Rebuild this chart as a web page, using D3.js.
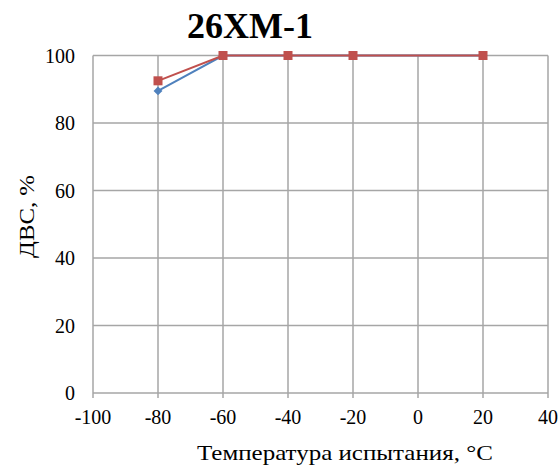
<!DOCTYPE html>
<html>
<head>
<meta charset="utf-8">
<script src="https://cdn.jsdelivr.net/npm/d3@7"></script>
<style>
  html, body { margin: 0; padding: 0; background: #fff; }
  svg { display: block; }
  text { font-family: "Liberation Serif", "Times New Roman", serif; fill: #000; }
</style>
</head>
<body>
<svg id="chart" width="560" height="467"></svg>
<script>
// Test temperatures, °C
const temperatures = [-80, -60, -40, -20, 20];
// Share of ductile fracture, % — two specimen series
const seriesBlue = [89.5, 100, 100, 100, 100];
const seriesRed = [92.5, 100, 100, 100, 100];
const xTicks = [-100, -80, -60, -40, -20, 0, 20, 40];
const yTicks = [0, 20, 40, 60, 80, 100];

const svg = d3.select("#chart");
const margin = { left: 93, right: 12, top: 55.5, bottom: 74 };
const W = 560, H = 467;

const x = d3.scaleLinear().domain([-100, 40]).range([margin.left, W - margin.right]);
const y = d3.scaleLinear().domain([0, 100]).range([H - margin.bottom, margin.top]);

const grid = "#a6a6a6";

// horizontal gridlines
svg.append("g").selectAll("line").data(yTicks).join("line")
  .attr("x1", x(-100)).attr("x2", x(40))
  .attr("y1", d => y(d)).attr("y2", d => y(d))
  .attr("stroke", grid).attr("stroke-width", 1.5);

// vertical gridlines with tick marks below the axis
svg.append("g").selectAll("line").data(xTicks).join("line")
  .attr("x1", d => x(d)).attr("x2", d => x(d))
  .attr("y1", y(100)).attr("y2", y(0) + 5)
  .attr("stroke", grid).attr("stroke-width", 1.5);

// x tick labels
svg.append("g").selectAll("text").data(xTicks).join("text")
  .attr("x", d => x(d)).attr("y", y(0) + 31)
  .attr("text-anchor", "middle")
  .attr("font-size", 20)
  .text(d => d);

// y tick labels
svg.append("g").selectAll("text").data(yTicks).join("text")
  .attr("x", 75).attr("y", d => y(d))
  .attr("dy", "0.35em")
  .attr("text-anchor", "end")
  .attr("font-size", 20)
  .text(d => d);

// title
svg.append("text")
  .attr("x", 250).attr("y", 38)
  .attr("text-anchor", "middle")
  .attr("font-size", 36).attr("font-weight", "bold")
  .text("26ХМ-1");

// axis titles, stretched horizontally to a fixed width
function stretchedText(tx, ty, rot, width, str) {
  const g = svg.append("g").attr("transform", `translate(${tx},${ty}) rotate(${rot})`);
  const t = g.append("text").attr("font-size", 22).text(str);
  const natural = t.node().getComputedTextLength();
  t.attr("transform", `scale(${width / natural},1)`);
}
stretchedText(197, 460, 0, 296, "Температура испытания, °С");
stretchedText(34, 258, -90, 83, "ДВС, %");

const line = d3.line().x(d => x(d[0])).y(d => y(d[1]));
const blueData = temperatures.map((t, i) => [t, seriesBlue[i]]);
const redData = temperatures.map((t, i) => [t, seriesRed[i]]);

// blue series: line with diamond markers
svg.append("path").datum(blueData)
  .attr("d", line).attr("fill", "none")
  .attr("stroke", "#4f81bd").attr("stroke-width", 2);
svg.append("g").selectAll("path").data(blueData).join("path")
  .attr("d", d3.symbol().type(d3.symbolDiamond2).size(50))
  .attr("transform", d => `translate(${x(d[0])},${y(d[1])})`)
  .attr("fill", "#4f81bd");

// red series: line with square markers
svg.append("path").datum(redData)
  .attr("d", line).attr("fill", "none")
  .attr("stroke", "#c0504d").attr("stroke-width", 2);
svg.append("g").selectAll("rect").data(redData).join("rect")
  .attr("x", d => x(d[0]) - 4.5).attr("y", d => y(d[1]) - 4.5)
  .attr("width", 9).attr("height", 9)
  .attr("fill", "#c0504d");
</script>
</body>
</html>
